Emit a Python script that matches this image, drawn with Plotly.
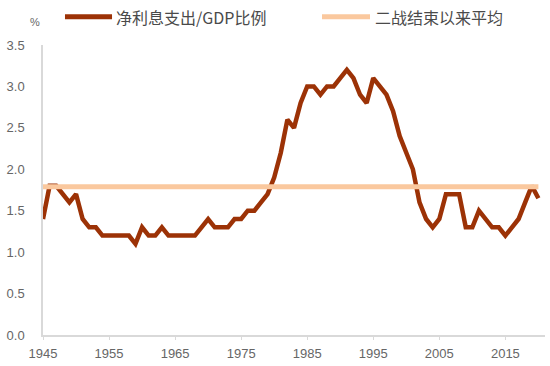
import plotly.graph_objects as go

years = list(range(1945, 2021))
net_interest = [
    1.4, 1.8, 1.8, 1.7, 1.6, 1.7, 1.4, 1.3, 1.3, 1.2,   # 1945-1954
    1.2, 1.2, 1.2, 1.2, 1.1, 1.3, 1.2, 1.2, 1.3, 1.2,   # 1955-1964
    1.2, 1.2, 1.2, 1.2, 1.3, 1.4, 1.3, 1.3, 1.3, 1.4,   # 1965-1974
    1.4, 1.5, 1.5, 1.6, 1.7, 1.9, 2.2, 2.6, 2.5, 2.8,   # 1975-1984
    3.0, 3.0, 2.9, 3.0, 3.0, 3.1, 3.2, 3.1, 2.9, 2.8,   # 1985-1994
    3.1, 3.0, 2.9, 2.7, 2.4, 2.2, 2.0, 1.6, 1.4, 1.3,   # 1995-2004
    1.4, 1.7, 1.7, 1.7, 1.3, 1.3, 1.5, 1.4, 1.3, 1.3,   # 2005-2014
    1.2, 1.3, 1.4, 1.6, 1.8, 1.65,                      # 2015-2020
]
postwar_avg = 1.79
x_ticks = [1945, 1955, 1965, 1975, 1985, 1995, 2005, 2015]
y_ticks = [0.0, 0.5, 1.0, 1.5, 2.0, 2.5, 3.0, 3.5]
series_names = ["净利息支出/GDP比例", "二战结束以来平均"]
colors = ["#9C3206", "#FAC89E"]

fig = go.Figure()
fig.add_trace(go.Scatter(
    x=years, y=net_interest, mode="lines", name=series_names[0],
    line=dict(color=colors[0], width=4.5), showlegend=False,
))
fig.add_trace(go.Scatter(
    x=years, y=[postwar_avg] * len(years), mode="lines", name=series_names[1],
    line=dict(color=colors[1], width=5), showlegend=False,
))

tick_font = dict(family="Liberation Sans, Arial, sans-serif", size=13, color="#666666")
legend_font = dict(family="Noto Sans CJK SC, sans-serif", size=16, color="#4a4a4a")

# manual legend (paper coordinates)
leg_y = 1.097
legend_items = [(0.0438, 0.1375, 0.1414), (0.5558, 0.6514, 0.6574)]
shapes = []
annotations = []
for (x0, x1, xt), name, col in zip(legend_items, series_names, colors):
    shapes.append(dict(type="line", xref="paper", yref="paper", x0=x0, x1=x1,
                       y0=leg_y, y1=leg_y, line=dict(color=col, width=5)))
    annotations.append(dict(text=name, xref="paper", yref="paper", x=xt, y=leg_y,
                            xanchor="left", yanchor="middle", showarrow=False,
                            font=legend_font))
annotations.append(dict(
    text="%", xref="paper", yref="paper", x=-0.002, y=1.079,
    xanchor="right", yanchor="middle", showarrow=False,
    font=dict(family="Liberation Sans, Arial, sans-serif", size=11, color="#666666"),
))

fig.update_layout(
    width=550, height=366, autosize=False,
    margin=dict(l=43, r=5, t=45, b=31),
    paper_bgcolor="white", plot_bgcolor="white",
    showlegend=False,
    xaxis=dict(
        range=[1945, 2021], tickvals=x_ticks, ticktext=[str(v) for v in x_ticks],
        showgrid=False, zeroline=False, showline=True, linecolor="#D9D9D9", linewidth=1.5,
        ticks="outside", ticklen=3, tickcolor="#D9D9D9", tickfont=tick_font,
        ticklabelstandoff=3,
    ),
    yaxis=dict(
        range=[0, 3.5], tickvals=y_ticks, ticktext=[f"{v:.1f}" for v in y_ticks],
        showgrid=False, zeroline=False, showline=True, linecolor="#D9D9D9", linewidth=1.5,
        ticks="", tickfont=tick_font, ticklabelstandoff=14,
    ),
    shapes=shapes,
    annotations=annotations,
)
fig.write_html("out.html", config={"displayModeBar": False},
               post_script="document.body.style.margin='0';")
